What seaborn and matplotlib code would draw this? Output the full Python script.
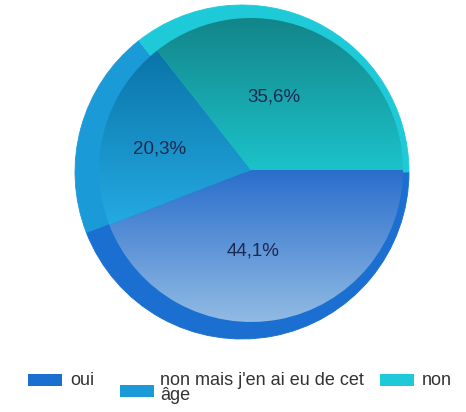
import numpy as np
import matplotlib
matplotlib.use("Agg")
import matplotlib.pyplot as plt
from matplotlib.patches import Rectangle
import seaborn as sns

# Survey answers and their shares (%)
categories = ["oui", "non mais j'en ai eu de cet\nâge", "non"]
shares = [44.1, 20.3, 35.6]

# Solid rim colour of each slice, and the top/bottom colours of the shaded face
rim_colors = ["#1b6fd0", "#1b9ad8", "#1fcad8"]
face_top = ["#2a6ecc", "#0a74a8", "#128488"]
face_bottom = ["#94bde4", "#24aae2", "#1cc2ca"]

sns.set_theme(style="white")
plt.rcParams["font.family"] = ["Liberation Sans", "DejaVu Sans"]

W, H = 466, 412
fig = plt.figure(figsize=(W / 100, H / 100), dpi=100)
ax = fig.add_axes([0, 0, 1, 1])

# Outer pie: the rim
outer_center = (242, 240)
outer_r = 167
outer, _ = ax.pie(shares, colors=rim_colors, startangle=0, counterclock=False,
                  radius=outer_r, center=outer_center,
                  wedgeprops=dict(linewidth=0.6))
for w in outer:
    w.set_edgecolor(w.get_facecolor())

# Inner pie: shaded faces, slightly offset to the right
inner_center = (251, 242)
inner_r = 152
inner, _ = ax.pie(shares, colors=["none"] * 3, startangle=0, counterclock=False,
                  radius=inner_r, center=inner_center,
                  wedgeprops=dict(linewidth=0))

for wedge, c0, c1 in zip(inner, face_top, face_bottom):
    # vertical extent of this slice
    ys = wedge.get_path().vertices[:, 1]
    ylo, yhi = ys.min(), ys.max()
    cmap = sns.blend_palette([c1, c0], as_cmap=True)
    grad = np.linspace(0, 1, 256).reshape(-1, 1)
    im = ax.imshow(grad, cmap=cmap, origin="lower", aspect="auto",
                   extent=[inner_center[0] - inner_r - 2, inner_center[0] + inner_r + 2,
                           ylo, yhi], zorder=2, interpolation="bilinear")
    im.set_clip_path(wedge)

# Percentage labels
for wedge, v in zip(outer, shares):
    mid = np.deg2rad((wedge.theta1 + wedge.theta2) / 2)
    d = 0.49 * outer_r
    x = outer_center[0] + d * np.cos(mid) - 4
    y = outer_center[1] + d * np.sin(mid) + 1
    ax.text(x, y, f"{v:.1f}%".replace(".", ","), ha="center", va="center",
            fontsize=13.5, color="#1b2a52", zorder=5)

# Legend
leg_patch_x = [28, 120, 380]
leg_patch_y = [26, 15, 26]
leg_text_x = [70, 160, 422]
line_step = 15
for lab, col, px, py, tx in zip(categories, rim_colors, leg_patch_x, leg_patch_y, leg_text_x):
    ax.add_patch(Rectangle((px, py), 34, 12.5, facecolor=col, edgecolor="none", zorder=5))
    n_lines = lab.count("\n") + 1
    ax.text(tx, 27 - line_step * (n_lines - 1), lab, ha="left", va="baseline",
            linespacing=0.85, fontsize=13, color="#333333", zorder=5)

ax.set_xlim(0, W)
ax.set_ylim(0, H)
ax.set_aspect("auto")
ax.set_axis_off()

fig.savefig("out.png", dpi=100, facecolor="white")
